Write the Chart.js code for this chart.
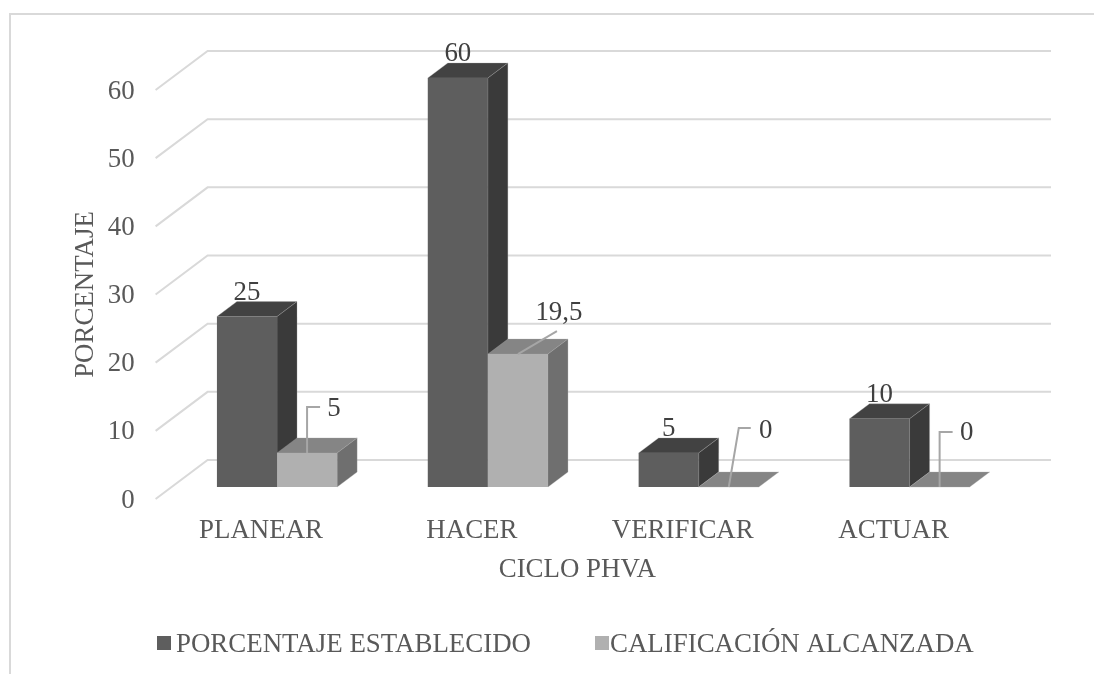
<!DOCTYPE html>
<html>
<head>
<meta charset="utf-8">
<style>
  html, body { margin: 0; padding: 0; background: #fff; }
  #chart { width: 1094px; height: 674px; }
</style>
<script src="https://cdn.jsdelivr.net/npm/chart.js@4/dist/chart.umd.min.js"></script>
</head>
<body>
<div id="chart"><canvas></canvas></div>
<script>
const categories = ["PLANEAR", "HACER", "VERIFICAR", "ACTUAR"];
const seriesNames = ["PORCENTAJE ESTABLECIDO", "CALIFICACIÓN ALCANZADA"];
const establecido = [25, 60, 5, 10];
const alcanzada = [5, 19.5, 0, 0];
const yTicks = [0, 10, 20, 30, 40, 50, 60];

const textColor = "#595959";
const serif = "'Liberation Serif', serif";
const fontSize = 26.9;

// depth of the bar boxes and of the whole floor
const barDepth = { x: 20, y: -15 };
const floorDepth = { x: 52, y: -39 };
const barShift = { x: 16, y: -12 };

const faces = [
  { front: "#5e5e5e", side: "#3a3a3a", top: "#424242" },
  { front: "#b0b0b0", side: "#6f6f6f", top: "#858585" }
];
const edge = "rgba(170,170,170,0.3)";

// where the text of each value goes, relative to the top centre of its bar
const callouts = [
  [{ dx: 0, dy: -24 }, { dx: 0, dy: -24 }, { dx: 0, dy: -24 }, { dx: 0, dy: -24 }],
  [
    { dx: 27, dy: -44, line: [[0, -46], [13, -46]] },
    { dx: 41, dy: -41, line: [[39, -23]] },
    { dx: 37, dy: -56, line: [[10, -59], [22, -59]] },
    { dx: 27, dy: -54, line: [[0, -55], [13, -55]] }
  ]
];

// legend entries: x of the swatch, x of the text
const legendSlots = [[157, 176], [595, 610]];
const legendY = 643;

function quad(ctx, pts, color) {
  ctx.fillStyle = color;
  ctx.beginPath();
  pts.forEach((p, i) => i ? ctx.lineTo(p[0], p[1]) : ctx.moveTo(p[0], p[1]));
  ctx.closePath();
  ctx.fill();
  ctx.strokeStyle = edge;
  ctx.lineWidth = 1;
  ctx.stroke();
}

// top and side of each box, the library draws the front afterwards
function drawFaces(ctx, meta, c) {
  for (const bar of meta.data) {
    const hw = bar.width / 2;
    const l = bar.x - hw, r = bar.x + hw, t = bar.y, b = bar.base;
    const dx = barDepth.x, dy = barDepth.y;
    quad(ctx, [[l, t], [r, t], [r + dx, t + dy], [l + dx, t + dy]], c.top);
    if (b - t > 0.5) quad(ctx, [[r, t], [r + dx, t + dy], [r + dx, b + dy], [r, b]], c.side);
  }
}

const boxes = {
  id: "boxes",
  beforeDatasetsDraw(chart) {
    const { ctx, chartArea, scales } = chart;
    ctx.save();
    ctx.strokeStyle = "#d9d9d9";
    ctx.lineWidth = 2;
    for (const v of yTicks) {
      const y = scales.y.getPixelForValue(v);
      ctx.beginPath();
      ctx.moveTo(chartArea.left, y);
      ctx.lineTo(chartArea.left + floorDepth.x, y + floorDepth.y);
      ctx.lineTo(chartArea.right + floorDepth.x, y + floorDepth.y);
      ctx.stroke();
    }
    ctx.restore();
    // bars stand in the middle of the floor, not on its front edge
    ctx.save();
    ctx.translate(barShift.x, barShift.y);
  },
  beforeDatasetDraw(chart, args) {
    // chart.js paints the last dataset first, the second series has to go on top
    if (args.index === 1) return false;
    drawFaces(chart.ctx, args.meta, faces[0]);
  },
  afterDatasetDraw(chart, args) {
    if (args.index !== 0) return;
    const meta = chart.getDatasetMeta(1);
    drawFaces(chart.ctx, meta, faces[1]);
    meta.data.forEach(bar => bar.draw(chart.ctx));
  },
  afterDatasetsDraw(chart) {
    const { ctx } = chart;
    ctx.restore();
    ctx.save();
    ctx.font = fontSize + "px " + serif;
    ctx.textAlign = "center";
    ctx.textBaseline = "middle";
    chart.data.datasets.forEach((ds, i) => {
      chart.getDatasetMeta(i).data.forEach((bar, j) => {
        const x = bar.x + barShift.x, y = bar.y + barShift.y;
        const c = callouts[i][j];
        if (c.line) {
          ctx.strokeStyle = "#a6a6a6";
          ctx.lineWidth = 2;
          ctx.beginPath();
          ctx.moveTo(x, y);
          c.line.forEach(p => ctx.lineTo(x + p[0], y + p[1]));
          ctx.stroke();
        }
        ctx.fillStyle = "#404040";
        ctx.fillText(String(ds.data[j]).replace(".", ","), x + c.dx, y + c.dy);
      });
    });
    ctx.restore();
  },
  afterDraw(chart) {
    const { ctx } = chart;
    ctx.save();
    // frame, only the top and left edges are inside the canvas
    ctx.strokeStyle = "#d9d9d9";
    ctx.lineWidth = 2;
    ctx.beginPath();
    ctx.moveTo(10, 674);
    ctx.lineTo(10, 14);
    ctx.lineTo(1094, 14);
    ctx.stroke();
    // legend, swatch sits closer to the text than the built in one allows
    ctx.font = fontSize + "px " + serif;
    ctx.textAlign = "left";
    ctx.textBaseline = "middle";
    seriesNames.forEach((name, i) => {
      ctx.fillStyle = faces[i].front;
      ctx.fillRect(legendSlots[i][0], legendY - 7, 14, 14);
      ctx.fillStyle = textColor;
      ctx.fillText(name, legendSlots[i][1], legendY + 2);
    });
    ctx.restore();
  }
};

new Chart(document.querySelector("#chart canvas"), {
  type: "bar",
  data: {
    labels: categories,
    datasets: [
      { label: seriesNames[0], data: establecido, backgroundColor: faces[0].front, clip: false },
      { label: seriesNames[1], data: alcanzada, backgroundColor: faces[1].front, clip: false }
    ]
  },
  plugins: [boxes],
  options: {
    responsive: true,
    maintainAspectRatio: false,
    animation: false,
    categoryPercentage: 0.57,
    barPercentage: 1,
    layout: { padding: { top: 90, left: 70, right: 95, bottom: 88 } },
    scales: {
      x: {
        afterFit(scale) { scale.height = 87; },
        grid: { display: false, drawTicks: false },
        border: { display: false },
        ticks: { color: textColor, font: { family: serif, size: fontSize }, padding: 16 },
        title: { display: true, text: "CICLO PHVA", color: textColor, font: { family: serif, size: fontSize }, padding: 0 }
      },
      y: {
        min: 0,
        max: 60,
        afterFit(scale) { scale.width = 85.6; },
        grid: { display: false, drawTicks: false },
        border: { display: false },
        ticks: { stepSize: 10, color: textColor, font: { family: serif, size: fontSize }, padding: 21, labelOffset: 1.5 },
        title: { display: true, text: "PORCENTAJE", color: textColor, font: { family: serif, size: fontSize }, padding: 0 }
      }
    },
    plugins: {
      tooltip: { enabled: false },
      legend: { display: false }
    }
  }
});
</script>
</body>
</html>
